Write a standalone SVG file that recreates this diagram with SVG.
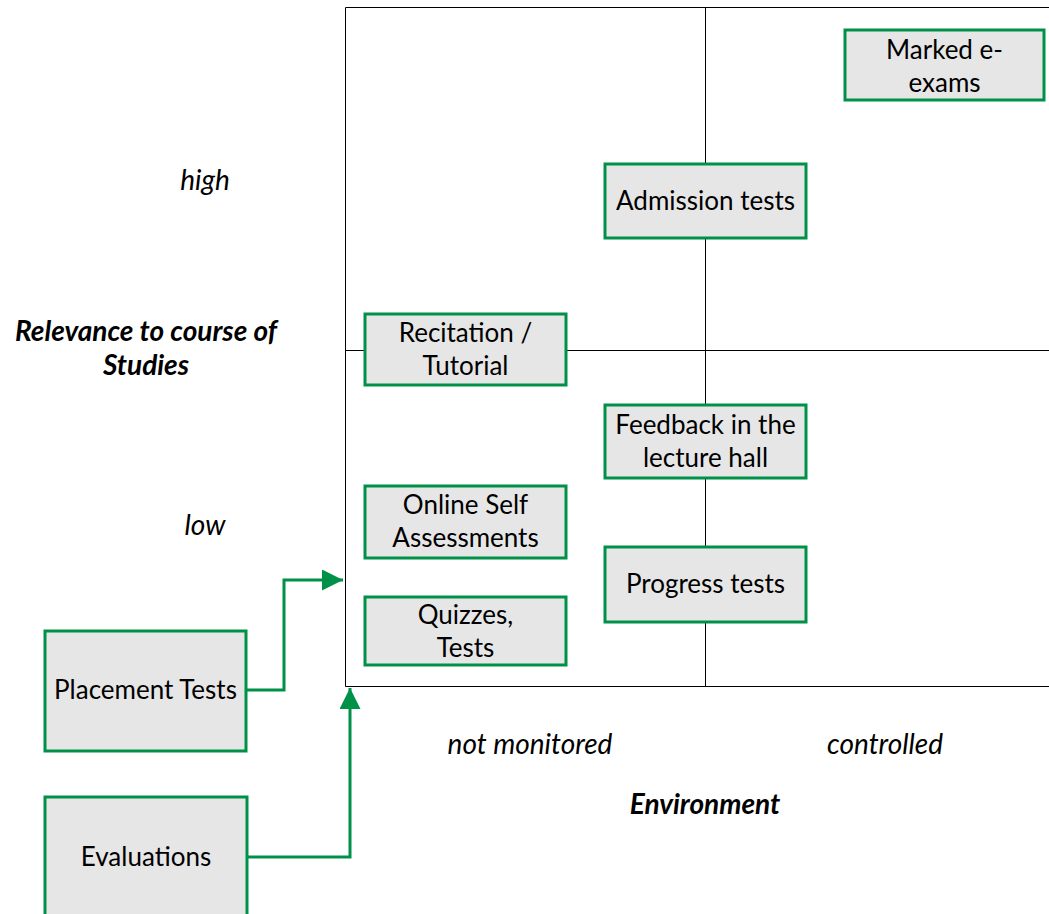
<svg xmlns="http://www.w3.org/2000/svg" width="1049" height="914" viewBox="0 0 1049 914">
  <style>
    .grid { stroke: #000; stroke-width: 1; fill: none; }
    .box rect { fill: #e6e6e6; stroke: #009149; stroke-width: 3; }
    .box text, .lbl { font-family: Lato, "Open Sans", sans-serif; font-size: 26px; fill: #000; text-anchor: middle; }
    .lbl { font-style: italic; font-size: 28px; }
    .axis { font-weight: bold; font-style: italic; font-size: 28px; }
    .conn { stroke: #009149; stroke-width: 3; fill: none; }
  </style>
  <defs>
    <marker id="arr" viewBox="0 0 10 10" refX="10" refY="5" markerWidth="7" markerHeight="7" markerUnits="strokeWidth" orient="auto">
      <path d="M0,0 L10,5 L0,10 Z" fill="#009149"/>
    </marker>
  </defs>
  <rect width="1049" height="914" fill="#fff"/>

  <!-- quadrant grid -->
  <g id="grid">
    <path class="grid" d="M1049,7.5 H345.5 V686.5 H1049"/>
    <path class="grid" d="M705.5,7.5 V686.5"/>
    <path class="grid" d="M345.5,350.5 H1049"/>
  </g>

  <!-- axis labels -->
  <g id="labels">
    <text class="lbl" x="205" y="190">high</text>
    <text class="lbl" x="205" y="535">low</text>
    <text class="lbl axis" x="146" y="341">Relevance to course of</text>
    <text class="lbl axis" x="146" y="375">Studies</text>
    <text class="lbl" x="530" y="754">not monitored</text>
    <text class="lbl" x="885" y="754">controlled</text>
    <text class="lbl axis" x="705" y="814">Environment</text>
  </g>

  <!-- connectors -->
  <g id="connectors">
    <path class="conn" d="M246,690 H284 V580 H343" marker-end="url(#arr)"/>
    <path class="conn" d="M247,857 H350 V688" marker-end="url(#arr)"/>
  </g>

  <g id="marked-e-exams" class="box">
    <rect x="845" y="30" width="199" height="70"/>
    <text x="944.5" y="59">Marked e-</text>
    <text x="944.5" y="92">exams</text>
  </g>
  <g id="admission-tests" class="box">
    <rect x="605" y="164" width="201" height="74"/>
    <text x="705.5" y="210">Admission tests</text>
  </g>
  <g id="recitation-tutorial" class="box">
    <rect x="365" y="314" width="201" height="71"/>
    <text x="465.5" y="342">Recitation /</text>
    <text x="465.5" y="375">Tutorial</text>
  </g>
  <g id="feedback-lecture-hall" class="box">
    <rect x="605" y="405" width="201" height="73"/>
    <text x="705.5" y="434">Feedback in the</text>
    <text x="705.5" y="467">lecture hall</text>
  </g>
  <g id="online-self-assessments" class="box">
    <rect x="365" y="486" width="201" height="72"/>
    <text x="465.5" y="514">Online Self</text>
    <text x="465.5" y="547">Assessments</text>
  </g>
  <g id="progress-tests" class="box">
    <rect x="605" y="547" width="201" height="75"/>
    <text x="705.5" y="593">Progress tests</text>
  </g>
  <g id="quizzes-tests" class="box">
    <rect x="365" y="597" width="201" height="68"/>
    <text x="465.5" y="624">Quizzes,</text>
    <text x="465.5" y="657">Tests</text>
  </g>
  <g id="placement-tests" class="box">
    <rect x="45" y="631" width="201" height="120"/>
    <text x="145.5" y="699">Placement Tests</text>
  </g>
  <g id="evaluations" class="box">
    <rect x="45" y="797" width="202" height="130"/>
    <text x="146" y="866">Evaluations</text>
  </g>
</svg>
